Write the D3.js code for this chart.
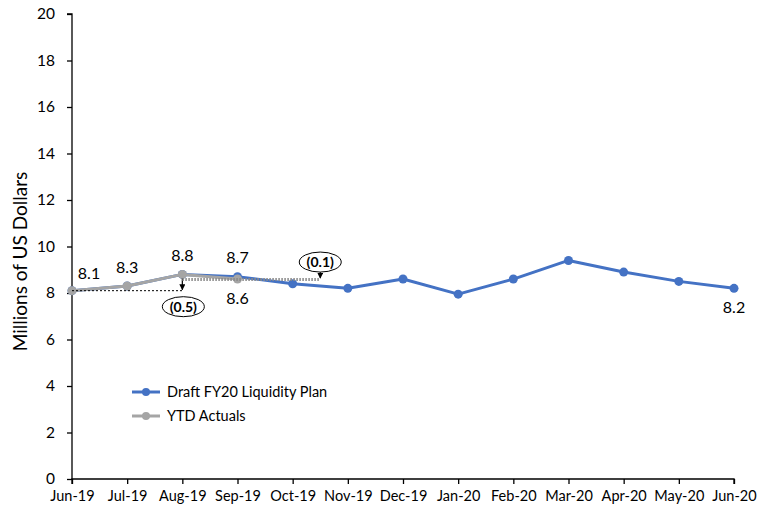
<!DOCTYPE html>
<html>
<head>
<meta charset="utf-8">
<script src="https://cdn.jsdelivr.net/npm/d3@7"></script>
<style>
  html, body { margin: 0; padding: 0; background: #fff; }
  svg { display: block; font-family: Lato, "Open Sans", sans-serif; }
</style>
</head>
<body>
<svg id="chart" width="771" height="510"></svg>
<script>
// Months on the x axis
const months = ["Jun-19","Jul-19","Aug-19","Sep-19","Oct-19","Nov-19","Dec-19",
                "Jan-20","Feb-20","Mar-20","Apr-20","May-20","Jun-20"];
// Draft FY20 liquidity plan (USD millions)
const planValues = [8.1, 8.3, 8.8, 8.7, 8.4, 8.2, 8.6, 7.95, 8.6, 9.4, 8.9, 8.5, 8.2];
// Year-to-date actuals (USD millions)
const actualValues = [8.1, 8.3, 8.8, 8.6];
// Y axis ticks
const yTicks = [0, 2, 4, 6, 8, 10, 12, 14, 16, 18, 20];
// Point labels: [series, month index, text, placement]
const pointLabels = [
  ["plan", 0, "8.1", "aboveRight"],
  ["plan", 1, "8.3", "above"],
  ["plan", 2, "8.8", "above"],
  ["plan", 3, "8.7", "above"],
  ["actual", 3, "8.6", "below"],
  ["plan", 12, "8.2", "below"]
];
const seriesNames = ["Draft FY20 Liquidity Plan", "YTD Actuals"];

const blue = "#4472C4", grey = "#A5A5A5";
const svg = d3.select("#chart");
const plotL = 72, plotR = 734, plotT = 14, plotB = 479;

const x = d3.scalePoint().domain(months).range([plotL, plotR]);
const y = d3.scaleLinear().domain([0, 20]).range([plotB, plotT]);

// Axes
const yAxis = svg.append("g").attr("transform", `translate(${plotL},0)`)
  .call(d3.axisLeft(y).tickValues(yTicks).tickSize(5).tickPadding(12).tickFormat(d3.format("d")));
const xAxis = svg.append("g").attr("transform", `translate(0,${plotB})`)
  .call(d3.axisBottom(x).tickSize(5).tickPadding(7));
[yAxis, xAxis].forEach(g => {
  g.select(".domain").attr("stroke", "#000").attr("stroke-width", 1.3);
  g.selectAll(".tick line").attr("stroke", "#000").attr("stroke-width", 1.3);
  g.selectAll("text").attr("fill", "#000").style("font-family", "Lato, sans-serif");
});
yAxis.select(".domain").attr("d", `M-5,${plotT}H0V${plotB}`);
xAxis.select(".domain").attr("d", `M${plotL},5V0H${plotR}V5`);
yAxis.selectAll("text").style("font-size", "15.5px");
xAxis.selectAll("text").style("font-size", "14.5px");

// Axis title
svg.append("text")
  .attr("transform", `translate(27,${(plotT + plotB) / 2 + 15}) rotate(-90)`)
  .attr("text-anchor", "middle")
  .style("font-size", "19px")
  .text("Millions of US Dollars");

const line = d3.line().x((d, i) => x(months[i])).y(d => y(d));

function drawSeries(values, color) {
  svg.append("path").datum(values)
    .attr("fill", "none").attr("stroke", color).attr("stroke-width", 3)
    .attr("stroke-linejoin", "round").attr("d", line);
  svg.append("g").selectAll("circle").data(values).join("circle")
    .attr("cx", (d, i) => x(months[i])).attr("cy", d => y(d))
    .attr("r", 4.5).attr("fill", color);
}
drawSeries(planValues, blue);
drawSeries(actualValues, grey);

// Variance annotations
const defs = svg.append("defs");
defs.append("marker").attr("id", "arrow").attr("viewBox", "0 0 10 10")
  .attr("refX", 9).attr("refY", 5).attr("markerWidth", 6).attr("markerHeight", 6)
  .attr("markerUnits", "userSpaceOnUse").attr("orient", "auto")
  .append("path").attr("d", "M0,0L10,5L0,10Z").attr("fill", "#000");

// Aug-19 actual vs Jun-19 start
svg.append("line")
  .attr("x1", x("Jun-19")).attr("x2", x("Aug-19"))
  .attr("y1", y(actualValues[0])).attr("y2", y(actualValues[0]))
  .attr("stroke", "#000").attr("stroke-width", 1).attr("stroke-dasharray", "2,2");
svg.append("line")
  .attr("x1", x("Aug-19")).attr("x2", x("Aug-19"))
  .attr("y1", y(actualValues[2]) + 4).attr("y2", y(actualValues[0]) - 1)
  .attr("stroke", "#000").attr("stroke-width", 1.2).attr("marker-end", "url(#arrow)");

// Sep-19 actual vs plan level
const sepX1 = x("Aug-19"), sepX2 = (x("Oct-19") + x("Nov-19")) / 2;
svg.append("line")
  .attr("x1", sepX1).attr("x2", sepX2)
  .attr("y1", y(actualValues[3]) + 0.5).attr("y2", y(actualValues[3]) + 0.5)
  .attr("stroke", "#8a8a8a").attr("stroke-width", 3).attr("stroke-dasharray", "1.5,1.5");
svg.append("line")
  .attr("x1", sepX2).attr("x2", sepX2)
  .attr("y1", y(actualValues[3]) - 9).attr("y2", y(actualValues[3]) - 1)
  .attr("stroke", "#000").attr("stroke-width", 1).attr("marker-end", "url(#arrow)");

function bubble(cx, cy, text) {
  svg.append("ellipse").attr("cx", cx).attr("cy", cy).attr("rx", 21).attr("ry", 10)
    .attr("fill", "#fff").attr("stroke", "#000").attr("stroke-width", 1);
  svg.append("text").attr("x", cx).attr("y", cy).attr("dy", "0.35em")
    .attr("text-anchor", "middle").style("font-size", "14px").style("font-weight", "bold")
    .text(text);
}
bubble(x("Aug-19") + 1, y(actualValues[0]) + 16, "(0.5)");
bubble(sepX2, y(actualValues[3]) - 17, "(0.1)");

// Point labels
pointLabels.forEach(([s, i, t, pos]) => {
  const v = s === "plan" ? planValues[i] : actualValues[i];
  let px = x(months[i]), py = y(v);
  if (pos === "above") py -= 15;
  if (pos === "aboveRight") { px += 17; py -= 13; }
  if (pos === "below") py += 23;
  svg.append("text").attr("x", px).attr("y", py).attr("dy", "0.1em")
    .attr("text-anchor", "middle").style("font-size", "16px").text(t);
});

// Legend
const legend = svg.append("g").attr("transform", "translate(132,392)");
seriesNames.forEach((name, k) => {
  const g = legend.append("g").attr("transform", `translate(0,${k * 24})`);
  g.append("line").attr("x1", 0).attr("x2", 28).attr("stroke", k ? grey : blue).attr("stroke-width", 3);
  g.append("circle").attr("cx", 14).attr("r", 4).attr("fill", k ? grey : blue);
  g.append("text").attr("x", 35).attr("dy", "0.35em").style("font-size", "14.5px").text(name);
});
</script>
</body>
</html>
